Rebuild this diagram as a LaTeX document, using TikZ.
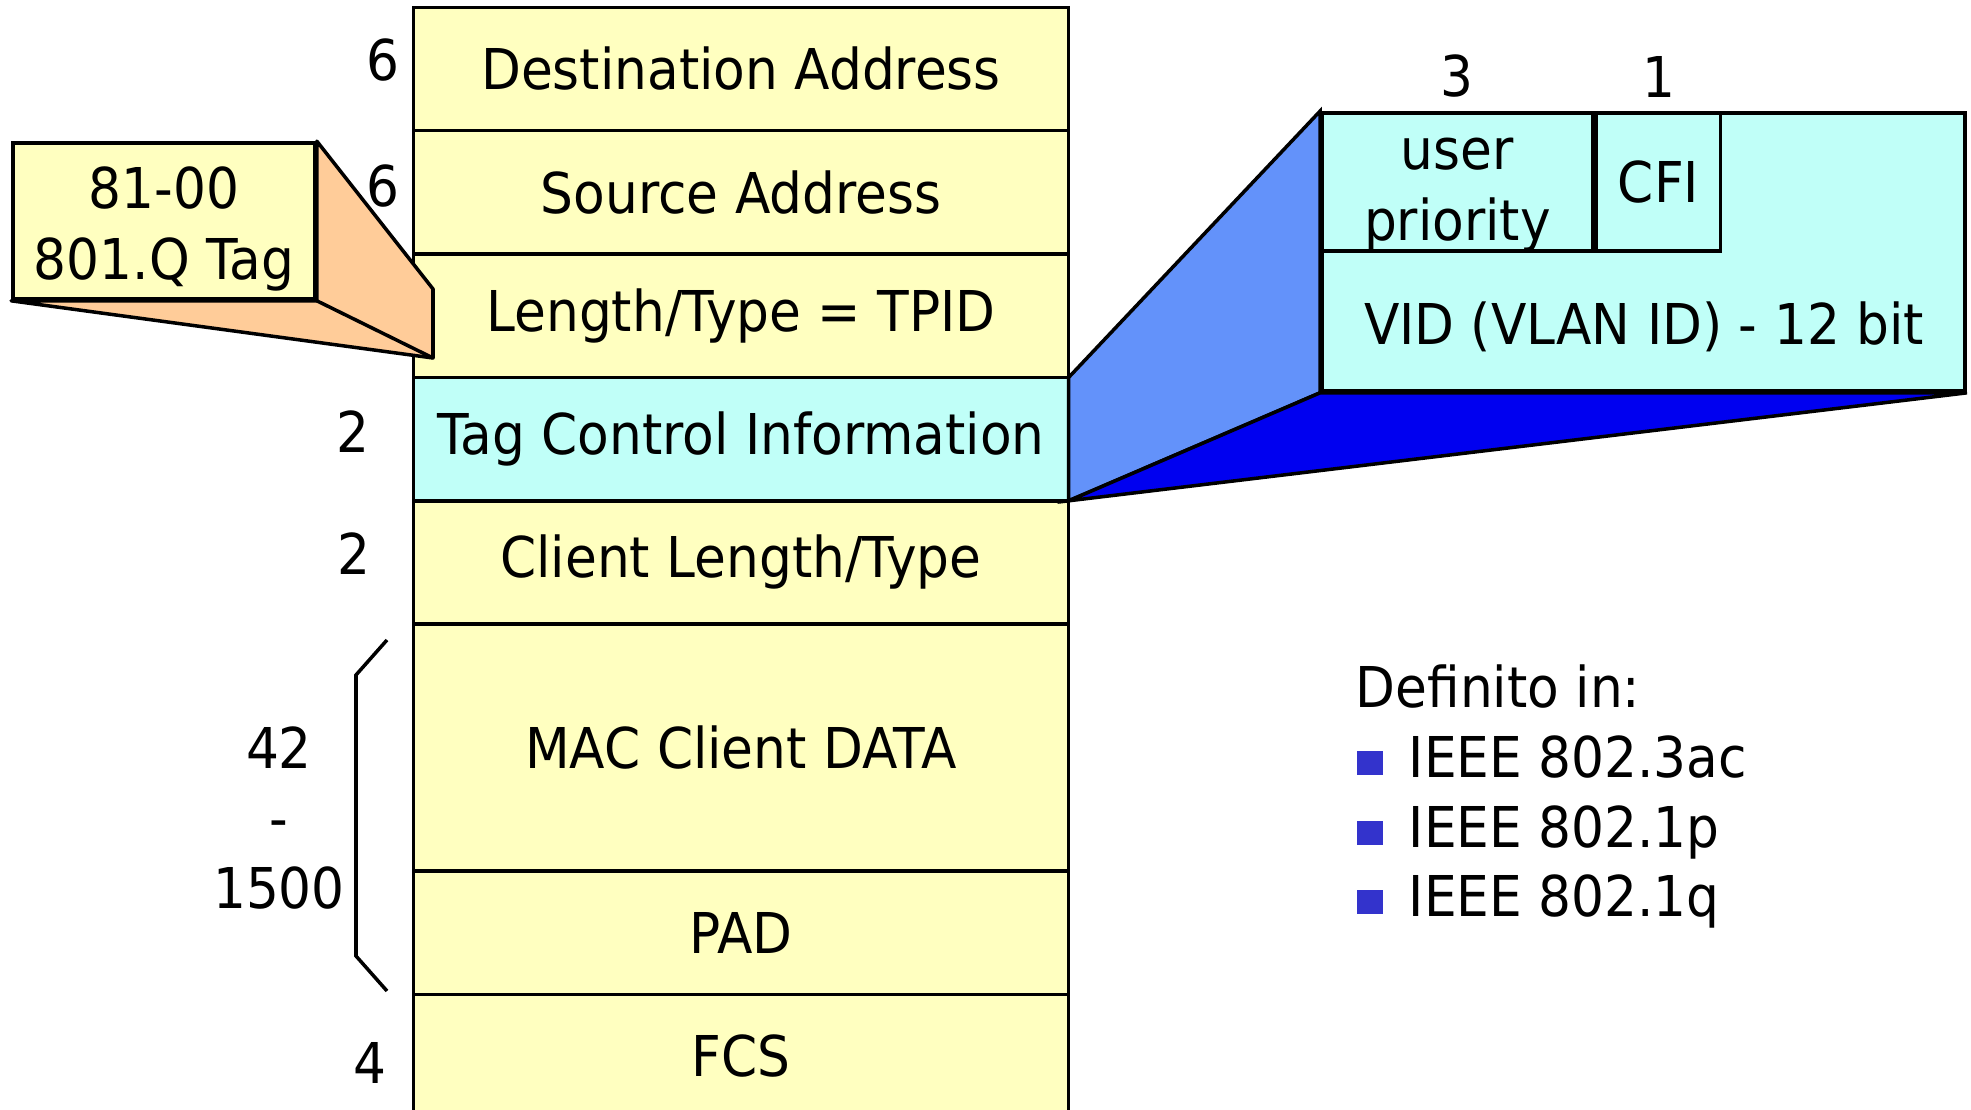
\documentclass[tikz,border=0pt]{standalone}
\usepackage{fontspec}
\setmainfont{DejaVu Sans}[FakeStretch=0.92]
\usetikzlibrary{positioning}
\definecolor{fieldyellow}{RGB}{255,255,192}
\definecolor{tagcyan}{RGB}{192,255,248}
\definecolor{tagorange}{RGB}{255,204,153}
\definecolor{sidelight}{RGB}{99,146,250}
\definecolor{sidedark}{RGB}{0,0,240}
\definecolor{bulletblue}{RGB}{51,51,204}

\begin{document}
\begin{tikzpicture}[x=0.01cm,y=-0.01cm,line width=1pt,
                    font=\fontsize{16}{20}\selectfont,
    field/.style={draw,fill=fieldyellow,minimum width=6.55cm,minimum height=1.233cm,
                  inner sep=0pt,outer sep=0pt},
    tagfield/.style={field,fill=tagcyan},
    size/.style={inner sep=0pt},
    cell/.style={draw,fill=tagcyan,inner sep=0pt,anchor=north west,minimum height=1.38cm},
    item/.style={anchor=base west,inner sep=0pt}]
  \useasboundingbox (0,0) rectangle (1971,1110);

  \node[field]    (da)   at (741,69)        {Destination Address};
  \node[field]    (sa)   [below=0pt of da]  {Source Address};
  \node[field]    (lt)   [below=0pt of sa]  {Length/Type = TPID};
  \node[tagfield] (tci)  [below=0pt of lt]  {Tag Control Information};
  \node[field]    (clt)  [below=0pt of tci] {Client Length/Type};
  \node[field,minimum height=2.466cm] (data) [below=0pt of clt] {MAC Client DATA};
  \node[field]    (pad)  [below=0pt of data] {PAD};
  \node[field]    (fcs)  [below=0pt of pad]  {FCS};

  \node[size] (s1) at (383,60)   {6};
  \node[size] (s2) at (383,186)  {6};
  \node[size] (s3) at (353,432)  {2};
  \node[size] (s4) at (354,554)  {2};
  \node[size] (s5) at (370,1063) {4};
  \node[size,align=center] (s6) at (279,818) {42\\-\\1500};
  \draw (387,640) -- (356,675) -- (356,956) -- (387,991);

  \node[draw,fill=fieldyellow,minimum width=3.02cm,minimum height=1.56cm,
        inner sep=0pt] (tag) at (164,221) {};
  \node[align=center] (tagtxt) at ([yshift=-0.08cm]tag.center) {81-00\\801.Q Tag};
  \coordinate (ta) at (433,289);
  \coordinate (tb) at (433,358);
  \draw[fill=tagorange,line join=round] (tag.north east) -- (ta) -- (tb)
        -- (tag.south west) -- (tag.south east) -- cycle;
  \draw (tag.south east) -- (tb);

  \node[draw,fill=tagcyan,minimum width=6.43cm,minimum height=2.78cm] (vlan) at (1643.5,252) {};
  \node[cell,minimum width=2.71cm] (prio) at (vlan.north west) {};
  \node[align=center] (uprio) at ([yshift=-0.13cm]prio.center) {user\\priority};
  \node[cell,minimum width=1.24cm] (cfi) at (prio.north east) {CFI};
  \node (vid) at (1644,327) {VID (VLAN ID) - 12 bit};
  \node (b3) [above=0pt of prio] {3};
  \node (b1) [above=0pt of cfi]  {1};
  \draw[fill=sidelight] (tci.north east) -- (vlan.north west) -- (vlan.south west)
        -- (tci.south east) -- cycle;
  \draw[fill=sidedark] (tci.south east) -- (vlan.south west) -- (vlan.south east) -- cycle;

  \node[item] (def) at (1354,708) {Definito in:};
  \foreach \y/\t [count=\i] in {778/IEEE 802.3ac,848/IEEE 802.1p,917/IEEE 802.1q} {
    \fill[bulletblue] (1357,\y-27) rectangle (1383,\y-3);
    \node[item] (ieee\i) at (1407,\y) {\t};
  }
\end{tikzpicture}
\end{document}
